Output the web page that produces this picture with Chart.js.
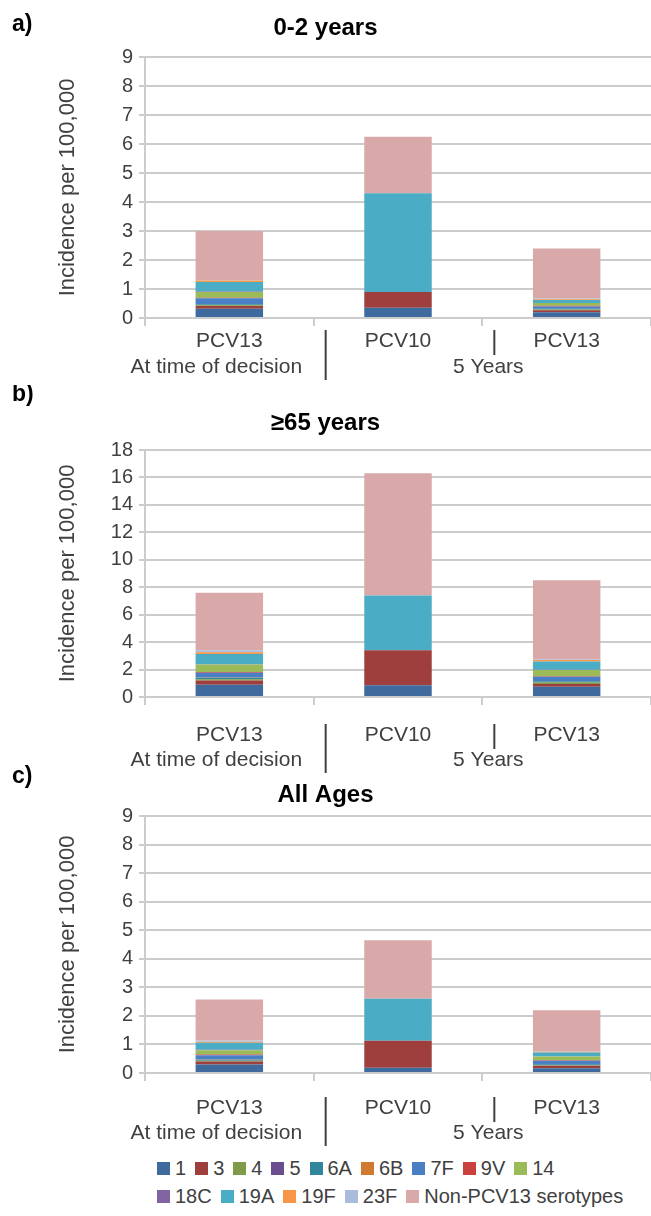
<!DOCTYPE html>
<html>
<head>
<meta charset="utf-8">
<script src="https://cdn.jsdelivr.net/npm/chart.js@4.4.0/dist/chart.umd.min.js"></script>
<style>
  html, body { margin: 0; padding: 0; background: #fff; overflow: hidden; }
  body { width: 651px; height: 1216px; position: relative; }
  .panel { position: absolute; left: 0; width: 651px; }
  #legend { position: absolute; left: 157px; top: 1154px; font-family: 'Liberation Sans', sans-serif; font-size: 20px; color: #404040; white-space: nowrap; }
  .row { display: flex; height: 28px; align-items: center; }
  .item { display: flex; align-items: center; margin-right: 9px; }
  .box { width: 13px; height: 13px; margin-right: 5px; }
</style>
</head>
<body>
<div class="panel" style="top:0px;height:385px"><canvas id="chartA" width="651" height="385"></canvas></div>
<div class="panel" style="top:385px;height:400px"><canvas id="chartB" width="651" height="400"></canvas></div>
<div class="panel" style="top:765px;height:385px"><canvas id="chartC" width="651" height="385"></canvas></div>
<div id="legend"></div>
<script>
const categories = ['PCV13', 'PCV10', 'PCV13'];
const groupLabels = ['At time of decision', '5 Years'];
const serotypes = ['1', '3', '4', '5', '6A', '6B', '7F', '9V', '14', '18C', '19A', '19F', '23F', 'Non-PCV13 serotypes'];
const colors = ['#3f6a9e', '#9e3f3d', '#7f9a48', '#6b4e8e', '#31869b', '#d07a30', '#4a7ec5', '#c8413e',
                '#9bbb59', '#8064a2', '#4bacc6', '#f79646', '#a9bcdb', '#d9a9a9'];

// incidence per 100,000, one value per serotype (same order as serotypes)
const age0to2Decision = [0.32, 0.09, 0.03, 0, 0.03, 0.01, 0.2, 0.02, 0.2, 0.01, 0.33, 0.05, 0.02, 1.69];
const age0to2Pcv10    = [0.35, 0.55, 0, 0, 0, 0, 0, 0, 0, 0, 3.4, 0, 0, 1.95];
const age0to2Pcv13    = [0.2, 0.07, 0.02, 0, 0.03, 0, 0.08, 0.02, 0.1, 0, 0.1, 0.03, 0.02, 1.73];

const age65Decision = [0.9, 0.3, 0.1, 0, 0.1, 0.02, 0.35, 0.05, 0.55, 0.02, 0.75, 0.12, 0.15, 4.19];
const age65Pcv10    = [0.85, 2.55, 0, 0, 0, 0, 0, 0, 0, 0, 4.0, 0, 0, 8.9];
const age65Pcv13    = [0.75, 0.2, 0.1, 0, 0.1, 0.02, 0.3, 0.05, 0.45, 0.02, 0.6, 0.1, 0.05, 5.76];

const allAgesDecision = [0.3, 0.1, 0.03, 0, 0.03, 0.01, 0.15, 0.03, 0.15, 0.01, 0.25, 0.03, 0.05, 1.43];
const allAgesPcv10    = [0.18, 0.95, 0, 0, 0, 0, 0, 0, 0, 0, 1.47, 0, 0, 2.05];
const allAgesPcv13    = [0.17, 0.08, 0.02, 0, 0.04, 0, 0.12, 0.02, 0.13, 0, 0.14, 0.02, 0.02, 1.44];

const FONT = "'Liberation Sans', sans-serif";
const TEXT = '#404040';
const GRID = '#cccccc';

// second category row + separators + panel letter
const groupAxis = {
  id: 'groupAxis',
  afterDraw(chart, args, opts) {
    const x = chart.scales.x;
    const ctx = chart.ctx;
    const y0 = x.top;
    const c0 = x.getPixelForValue(0), c1 = x.getPixelForValue(1), c2 = x.getPixelForValue(2);
    const b01 = (c0 + c1) / 2, b12 = (c1 + c2) / 2;
    ctx.save();
    ctx.fillStyle = TEXT;
    ctx.font = '21px ' + FONT;
    ctx.textAlign = 'center';
    ctx.textBaseline = 'middle';
    ctx.fillText(groupLabels[0], c0 - 13, y0 + opts.row2);
    ctx.fillText(groupLabels[1], b12 + 6, y0 + opts.row2);
    ctx.strokeStyle = '#404040';
    ctx.lineWidth = 2;
    ctx.beginPath();
    ctx.moveTo(b01 + 12, y0 + opts.row1 - 11);
    ctx.lineTo(b01 + 12, y0 + opts.row2 + 13);
    ctx.moveTo(b12 + 12, y0 + opts.row1 - 11);
    ctx.lineTo(b12 + 12, y0 + opts.row1 + 14);
    ctx.stroke();
    ctx.fillStyle = '#000';
    ctx.font = 'bold 23px ' + FONT;
    ctx.textAlign = 'left';
    ctx.fillText(opts.letter, 12, opts.letterY);
    ctx.restore();
  }
};

function makePanel(id, title, letter, values, p) {
  const datasets = serotypes.map((s, i) => ({
    label: s,
    data: values.map(v => v[i]),
    backgroundColor: colors[i],
    borderWidth: 0,
    barPercentage: 0.4,
    categoryPercentage: 1.0
  }));
  const height = document.getElementById(id).height;
  new Chart(document.getElementById(id), {
    type: 'bar',
    data: { labels: categories, datasets: datasets },
    plugins: [groupAxis],
    options: {
      responsive: false,
      animation: false,
      layout: { padding: 0 },
      plugins: {
        legend: { display: false },
        tooltip: { enabled: false },
        title: {
          display: true,
          text: title,
          color: '#000',
          font: { family: FONT, size: 24, weight: 'bold', lineHeight: 1.2 },
          padding: { top: p.titleY - 14.4, bottom: p.top - p.titleY - 14.4 }
        },
        groupAxis: { row1: p.row1, row2: p.row2, letter: letter, letterY: p.letterY }
      },
      scales: {
        x: {
          stacked: true,
          offset: true,
          grid: { drawOnChartArea: false, offset: true, tickLength: 8, color: GRID, lineWidth: 2 },
          border: { color: GRID, width: 2 },
          ticks: { color: TEXT, font: { family: FONT, size: 21 }, padding: p.row1 - 8 - 12.6 },
          afterFit: s => { s.height = height - p.bottom; }
        },
        y: {
          stacked: true,
          min: 0,
          max: p.yMax,
          ticks: { stepSize: p.step, autoSkip: false, color: TEXT, font: { family: FONT, size: 20 }, padding: 6 },
          grid: { color: GRID, lineWidth: 2, tickLength: 6 },
          border: { color: GRID, width: 2 },
          title: {
            display: true,
            text: 'Incidence per 100,000',
            color: TEXT,
            font: { family: FONT, size: 22, lineHeight: 1.2 },
            padding: { top: 55, bottom: 0 }
          },
          afterFit: s => { s.width = 145; }
        }
      }
    }
  });
}

makePanel('chartA', '0-2 years', 'a)', [age0to2Decision, age0to2Pcv10, age0to2Pcv13],
  { titleY: 28, top: 57, bottom: 318, row1: 23, row2: 49, letterY: 25, yMax: 9, step: 1 });
makePanel('chartB', '\u226565 years', 'b)', [age65Decision, age65Pcv10, age65Pcv13],
  { titleY: 38, top: 65, bottom: 312, row1: 38, row2: 63, letterY: 10, yMax: 18, step: 2 });
makePanel('chartC', 'All Ages', 'c)', [allAgesDecision, allAgesPcv10, allAgesPcv13],
  { titleY: 30, top: 51, bottom: 308, row1: 35, row2: 60, letterY: 12, yMax: 9, step: 1 });

// legend, two rows as in the original figure
const legend = document.getElementById('legend');
const rowSplit = 9;
[serotypes.slice(0, rowSplit), serotypes.slice(rowSplit)].forEach((names, r) => {
  const row = document.createElement('div');
  row.className = 'row';
  names.forEach((name, j) => {
    const idx = r === 0 ? j : rowSplit + j;
    const item = document.createElement('div');
    item.className = 'item';
    const box = document.createElement('span');
    box.className = 'box';
    box.style.background = colors[idx];
    const label = document.createElement('span');
    label.textContent = name;
    item.appendChild(box);
    item.appendChild(label);
    row.appendChild(item);
  });
  legend.appendChild(row);
});
</script>
</body>
</html>
